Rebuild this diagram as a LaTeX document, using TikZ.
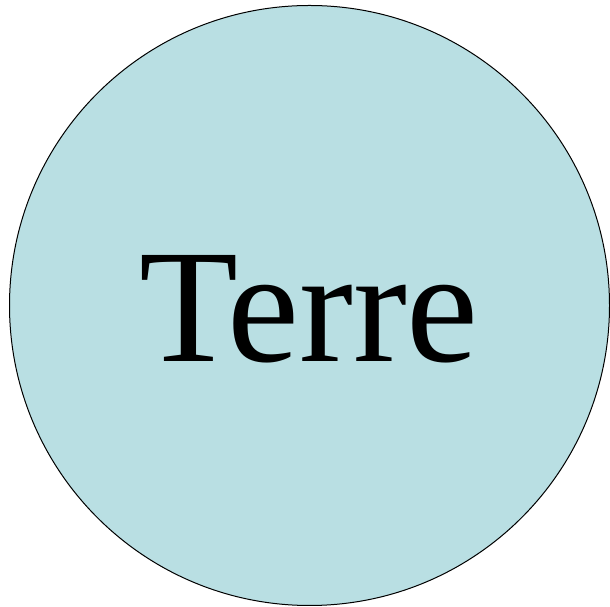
\documentclass[tikz,border=0pt]{standalone}
\usepackage{fontspec}
\setmainfont{Liberation Serif}
\definecolor{terrefill}{RGB}{185,223,227}
\begin{document}
\begin{tikzpicture}[x=1pt,y=1pt,
  globe/.style={circle,draw=black,line width=1pt,fill=terrefill,minimum size=600pt,inner sep=0pt},
  lbl/.style={font=\fontsize{162}{162}\selectfont,inner sep=0pt,anchor=base}]
\useasboundingbox (0,0) rectangle (610,607);
\node[globe] (earth) at (309.5,301.5) {};
\node[lbl] (label) at (309,245) {Terre};
\end{tikzpicture}
\end{document}
